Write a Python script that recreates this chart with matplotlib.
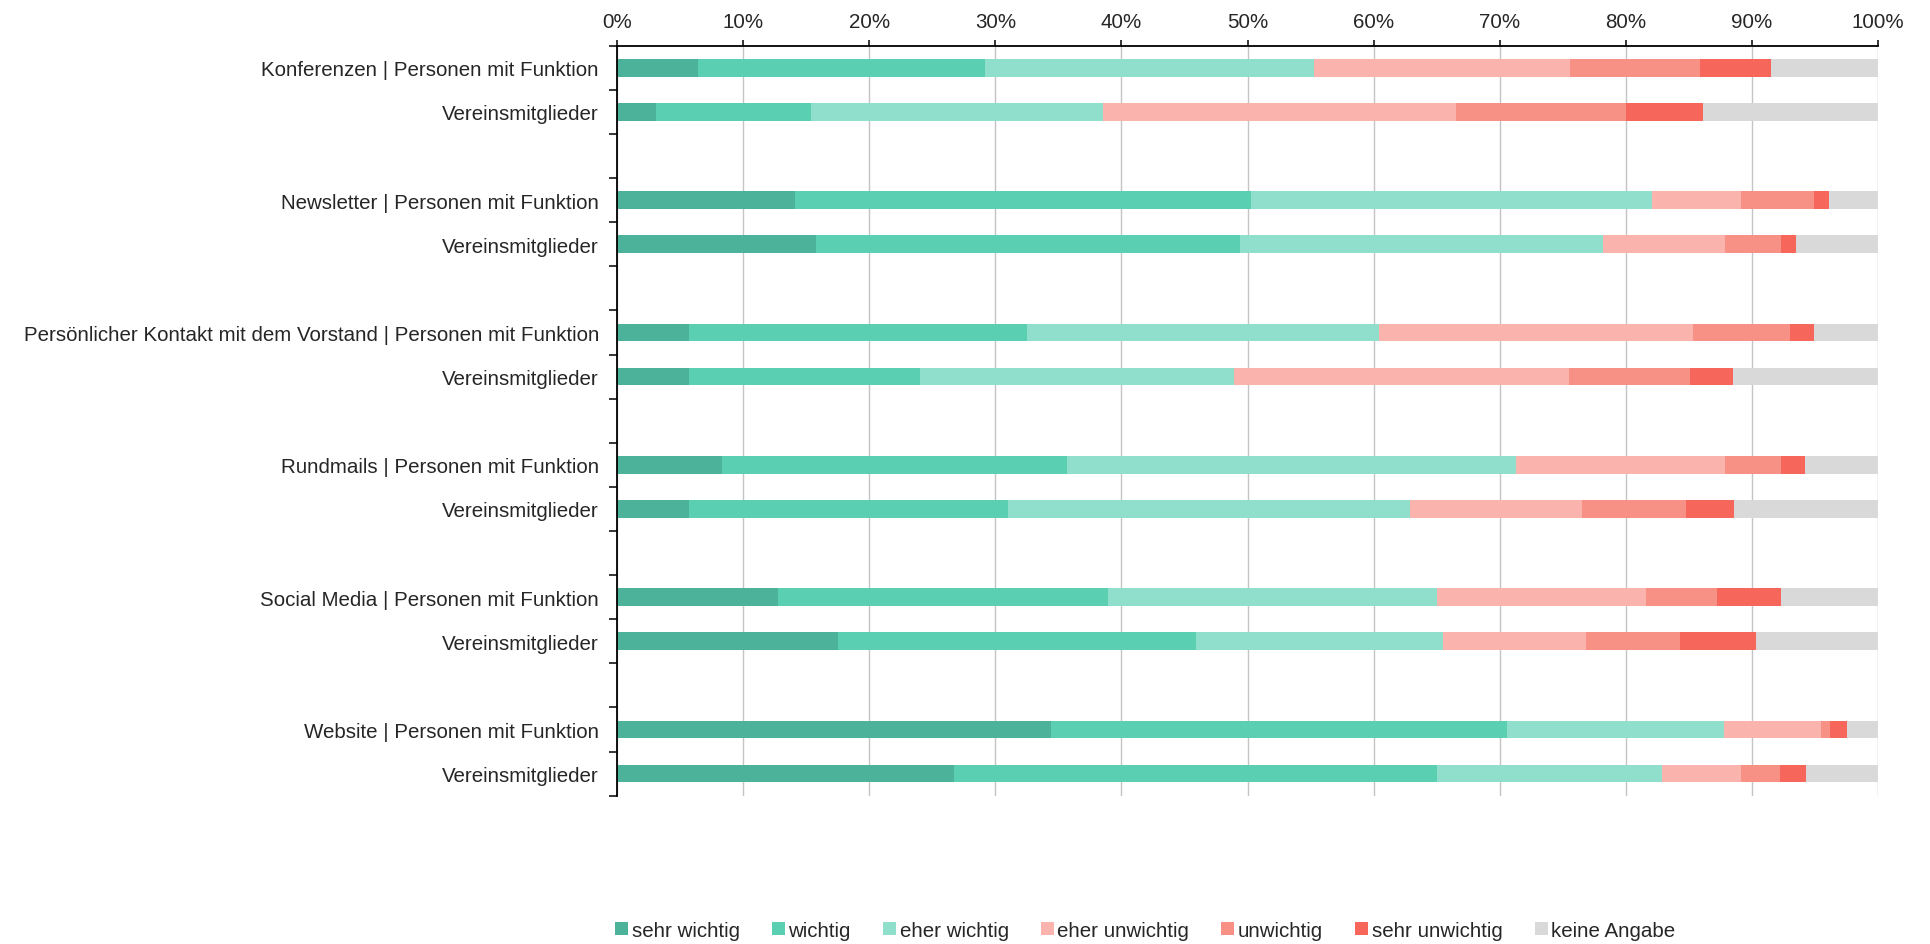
import numpy as np
import matplotlib
matplotlib.use('Agg')
import matplotlib.pyplot as plt
from matplotlib.ticker import FixedLocator, PercentFormatter

plt.rcParams['font.family'] = ['Liberation Sans', 'DejaVu Sans']
plt.rcParams['font.size'] = 14.8

# Kanäle, jeweils zwei Zeilen (Personen mit Funktion / Vereinsmitglieder)
labels = [
    'Konferenzen | Personen mit Funktion', 'Vereinsmitglieder',
    'Newsletter | Personen mit Funktion', 'Vereinsmitglieder',
    'Persönlicher Kontakt mit dem Vorstand | Personen mit Funktion', 'Vereinsmitglieder',
    'Rundmails | Personen mit Funktion', 'Vereinsmitglieder',
    'Social Media | Personen mit Funktion', 'Vereinsmitglieder',
    'Website | Personen mit Funktion', 'Vereinsmitglieder',
]

categories = ['sehr wichtig', 'wichtig', 'eher wichtig', 'eher unwichtig',
              'unwichtig', 'sehr unwichtig', 'keine Angabe']

sehr_wichtig = [6.4, 3.1, 14.1, 15.8, 5.7, 5.7, 8.3, 5.7, 12.8, 17.5, 34.4, 26.7]
wichtig = [22.8, 12.3, 36.2, 33.6, 26.8, 18.3, 27.4, 25.3, 26.1, 28.4, 36.2, 38.3]
eher_wichtig = [26.1, 23.1, 31.8, 28.8, 27.9, 24.9, 35.6, 31.9, 26.1, 19.6, 17.2, 17.9]
eher_unwichtig = [20.3, 28.0, 7.0, 9.7, 24.9, 26.6, 16.6, 13.6, 16.6, 11.3, 7.7, 6.2]
unwichtig = [10.3, 13.5, 5.8, 4.4, 7.7, 9.6, 4.4, 8.3, 5.6, 7.5, 0.7, 3.1]
sehr_unwichtig = [5.6, 6.1, 1.2, 1.2, 1.9, 3.4, 1.9, 3.8, 5.1, 6.0, 1.3, 2.1]
keine_angabe = [8.5, 13.9, 3.9, 6.5, 5.1, 11.5, 5.8, 11.4, 7.7, 9.7, 2.5, 5.7]

series = [sehr_wichtig, wichtig, eher_wichtig, eher_unwichtig,
          unwichtig, sehr_unwichtig, keine_angabe]
colors = ['#4cb39a', '#5bcfb2', '#8fdfcc', '#fab3ad', '#f79186', '#f6665a', '#d9d9d9']
text_col = '#262626'

# zwei Balken pro Gruppe, danach eine leere Zeile
y_pos = np.array([3 * (i // 2) + i % 2 for i in range(len(labels))])
n_slots = y_pos.max() + 1

fig = plt.figure(figsize=(19.3, 9.45), dpi=100)
ax = fig.add_axes([0.3197, 0.1569, 0.9731 - 0.3197, 0.9506 - 0.1569])

left = np.zeros(len(labels))
for name, vals, col in zip(categories, series, colors):
    vals = np.array(vals)
    ax.barh(y_pos, vals, left=left, height=0.4, color=col, label=name,
            linewidth=0, zorder=3)
    left += vals

ax.set_xlim(0, 100)
ax.set_ylim(n_slots - 0.5, -0.5)

# x-Achse oben
ax.xaxis.tick_top()
ax.set_xticks(np.arange(0, 101, 10))
ax.xaxis.set_major_formatter(PercentFormatter(decimals=0))
ax.tick_params(axis='x', which='major', direction='out', length=4.5, width=1.1,
               pad=6, labelsize=14.8, colors=text_col)
ax.tick_params(axis='x', which='major', color='#000000')
ax.grid(axis='x', color='#c4c4c4', linewidth=1.0, zorder=0)

# y-Achse: Striche an den Zeilengrenzen, Beschriftung in der Mitte
ax.yaxis.set_major_locator(FixedLocator(np.arange(-0.5, n_slots, 1.0)))
ax.yaxis.set_major_formatter(plt.NullFormatter())
ax.yaxis.set_minor_locator(FixedLocator(y_pos))
ax.set_yticklabels(labels, minor=True)
ax.tick_params(axis='y', which='major', direction='out', length=5.5, width=1.1)
ax.tick_params(axis='y', which='minor', length=0, pad=13, labelsize=14.8,
               labelcolor=text_col)

for s in ['right', 'bottom']:
    ax.spines[s].set_visible(False)
for s in ['top', 'left']:
    ax.spines[s].set_linewidth(1.3)
    ax.spines[s].set_color('#000000')
    ax.spines[s].set_zorder(4)

leg = fig.legend(loc='center left', bbox_to_anchor=(0.3187, 0.0148), ncol=7,
                 frameon=False, borderpad=0, borderaxespad=0,
                 handlelength=0.63, handleheight=0.63, handletextpad=0.18,
                 columnspacing=1.56, fontsize=14.8)
for t in leg.get_texts():
    t.set_color(text_col)

plt.savefig('out.png', dpi=100)
